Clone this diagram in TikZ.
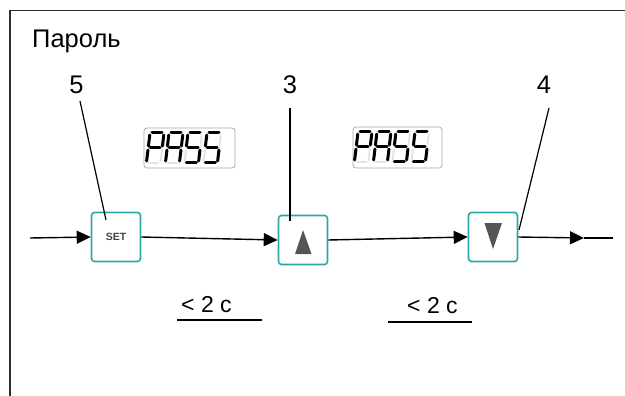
\documentclass[tikz,border=0pt]{standalone}
\usepackage{fontspec}
\setmainfont{Liberation Sans}
\usetikzlibrary{arrows.meta}
\definecolor{btnteal}{RGB}{42,168,168}
\definecolor{symgray}{RGB}{85,85,85}
\definecolor{framegray}{RGB}{45,45,45}
\definecolor{ghost}{RGB}{228,228,228}
\tikzset{
  btn/.style={draw=btnteal, line width=1.6pt, fill=white, rounded corners=3pt, minimum width=49pt, minimum height=49pt, inner sep=0pt},
  flow/.style={line width=1.4pt, -{Triangle[length=14pt,width=13pt]}},
  plain/.style={line width=1.4pt},
  leader/.style={line width=1.2pt},
  lcd/.style={draw=gray!70, line width=0.7pt, rounded corners=3pt},
  segon/.style={line width=3pt, line cap=round, black},
  segoff/.style={line width=2pt, line cap=round, ghost},
  seg a/.style={insert path={(2,0)--(12,0)}},
  seg b/.style={insert path={(14,2)--(14,13)}},
  seg c/.style={insert path={(14,17)--(14,28)}},
  seg d/.style={insert path={(2,30)--(12,30)}},
  seg e/.style={insert path={(0,17)--(0,28)}},
  seg f/.style={insert path={(0,2)--(0,13)}},
  seg g/.style={insert path={(2,15)--(12,15)}},
  pics/segdigit/.style={code={
    \begin{scope}[xslant=0.12]
      \foreach \s in {a,b,c,d,e,f,g} {\draw[segoff, seg \s];}
      \foreach \s in {#1} {\draw[segon, seg \s];}
    \end{scope}
  }},
  big/.style={font=\fontsize{25.5}{30}\selectfont, inner sep=0pt},
  mid/.style={font=\fontsize{23}{27}\selectfont, inner sep=0pt}
}
\begin{document}
\begin{tikzpicture}[x=1pt,y=-1pt]
\useasboundingbox (0,0) rectangle (625,396);
% frame
\draw[line width=1.5pt, framegray] (10,396) -- (10,10.5) -- (625,10.5);
% title
\node[big, anchor=base west] (title) at (32,48) {Пароль};
% labels
\node[big, anchor=base] (n5) at (76.5,94) {5};
\node[big, anchor=base] (n3) at (290,94) {3};
\node[big, anchor=base] (n4) at (544,94) {4};
% LCD displays
\draw[lcd] (144,128) rectangle (235,168);
\pic at (150,133) {segdigit={a,b,f,g,e}};
\pic at (169,133) {segdigit={a,b,c,e,f,g}};
\pic at (188,133) {segdigit={a,f,g,c,d}};
\pic at (207,133) {segdigit={a,f,g,c,d}};
\draw[lcd] (353,127) rectangle (442,168);
\pic at (358,132) {segdigit={a,b,f,g,e}};
\pic at (377,132) {segdigit={a,b,c,e,f,g}};
\pic at (396,132) {segdigit={a,f,g,c,d}};
\pic at (415,132) {segdigit={a,f,g,c,d}};
% buttons
\node[btn] (setb) at (116,237) {\fontsize{10.5}{12}\selectfont\bfseries\color{symgray!80!black}SET};
\node[btn] (upb) at (303,240) {};
\node[btn] (downb) at (493,237) {};
\fill[symgray] (295,254) -- (303,230) -- (311.5,254) -- cycle;
\fill[symgray] (484.5,223) -- (502,223) -- (493,249) -- cycle;
% flow line
\coordinate (start) at (30,238);
\coordinate (midarr) at (584,238);
\coordinate (finish) at (613,238);
\draw[flow] (start) -- (setb.west);
\draw[flow] (setb.east) -- (upb.west);
\draw[flow] (upb.east) -- (downb.west);
\draw[flow] (downb.east) -- (midarr);
\draw[plain] (midarr) -- (finish);
% leaders
\coordinate (l5a) at (80,101);
\coordinate (l5b) at (106,220);
\coordinate (l3a) at (290,108);
\coordinate (l3b) at (290,221);
\coordinate (l4a) at (549,108);
\coordinate (l4b) at (519,230);
\draw[leader] (l5a) -- (l5b);
\draw[leader] (l3a) -- (l3b);
\draw[leader] (l4a) -- (l4b);
% times
\node[mid, anchor=base west] (t1) at (181,312) {< 2 с};
\draw[line width=1.2pt] (177,320) -- (262,320);
\node[mid, anchor=base west] (t2) at (407,313) {< 2 с};
\draw[line width=1.2pt] (388,322) -- (472,322);
\end{tikzpicture}
\end{document}
